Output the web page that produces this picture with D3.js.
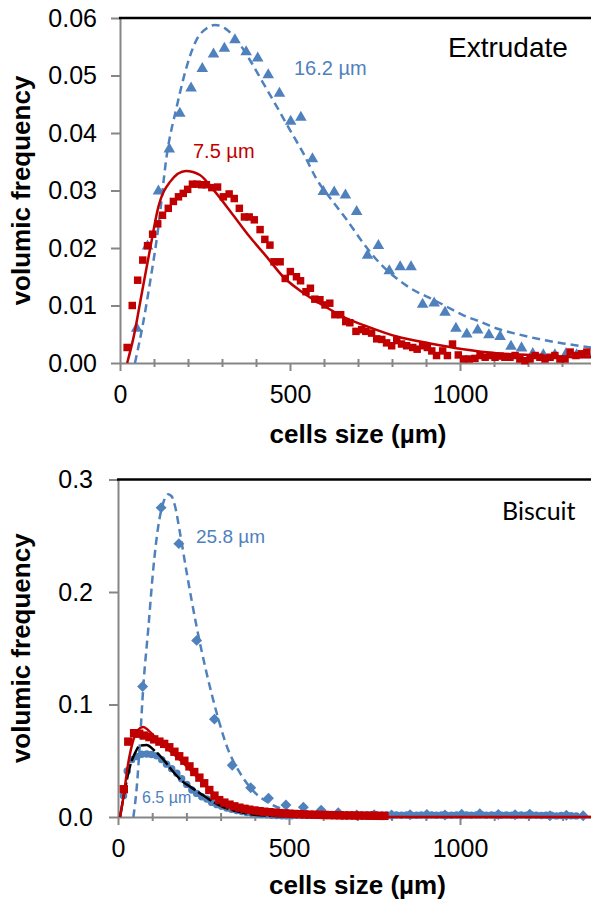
<!DOCTYPE html>
<html>
<head>
<meta charset="utf-8">
<script src="https://cdn.jsdelivr.net/npm/d3@7"></script>
<style>
  body { margin: 0; background: #fff; }
  text { font-family: "Liberation Sans", Arial, sans-serif; }
</style>
</head>
<body>
<svg id="chart" width="591" height="901"></svg>
<script>
// ---- Extrudate panel data: [cell size µm, volumic frequency]
var extSquares = [[21,0.0027],[36,0.0100],[52,0.0144],[67,0.0179],[81,0.0204],[96,0.0224],[111,0.0242],[125,0.0257],
  [142,0.0269],[157,0.0281],[172,0.0289],[186,0.0295],[199,0.0302],[213,0.0311],[227,0.0311],[240,0.0310],[254,0.0310],
  [270,0.0305],[287,0.0306],[304,0.0289],[321,0.0294],[336,0.0286],[351,0.0269],[366,0.0254],[380,0.0254],[395,0.0249],
  [412,0.0232],[426,0.0215],[441,0.0205],[453,0.0176],[471,0.0176],[486,0.0147],[501,0.0159],[519,0.0150],[531,0.0143],
  [547,0.0124],[560,0.0130],[573,0.0111],[588,0.0110],[603,0.0101],[617,0.0104],[632,0.0084],[649,0.0084],[664,0.0072],
  [676,0.0070],[694,0.0055],[711,0.0058],[723,0.0055],[740,0.0052],[755,0.0042],[770,0.0041],[784,0.0035],[799,0.0030],
  [814,0.0039],[828,0.0033],[843,0.0030],[861,0.0027],[874,0.0024],[890,0.0030],[904,0.0027],[917,0.0021],[931,0.0013],
  [949,0.0021],[963,0.0013],[978,0.0033],[995,0.0014],[1010,0.0007],[1027,0.0007],[1044,0.0008],[1059,0.0013],[1074,0.0010],
  [1088,0.0013],[1103,0.0010],[1118,0.0012],[1132,0.0010],[1147,0.0010],[1162,0.0013],[1176,0.0007],[1191,0.0004],[1206,0.0007],
  [1221,0.0013],[1235,0.0010],[1250,0.0007],[1265,0.0010],[1279,0.0013],[1294,0.0007],[1309,0.0007],[1324,0.0019],[1341,0.0013],
  [1358,0.0016],[1373,0.0019]];

var extTriangles = [[49,0.0060],[81,0.0203],[113,0.0299],[145,0.0372],[176,0.0434],[209,0.0478],[242,0.0512],[275,0.0537],
  [307,0.0547],[338,0.0562],[371,0.0541],[405,0.0530],[436,0.0501],[469,0.0469],[502,0.0420],[532,0.0427],[566,0.0355],
  [598,0.0298],[630,0.0297],[663,0.0292],[696,0.0263],[728,0.0187],[760,0.0204],[792,0.0160],[824,0.0167],[856,0.0167],
  [890,0.0102],[924,0.0104],[956,0.0088],[988,0.0060],[1020,0.0050],[1052,0.0057],[1085,0.0049],[1118,0.0046],[1150,0.0029],
  [1181,0.0026],[1214,0.0016],[1245,0.0014],[1279,0.0014],[1312,0.0016],[1343,0.0014],[1374,0.0014]];

var extRedFit = [[21,0],[40,0.0045],[64,0.0121],[88,0.0197],[113,0.0272],[147,0.0315],[194,0.0334],[235,0.0327],[275,0.0301],
  [333,0.0257],[382,0.0219],[431,0.0185],[480,0.0150],[529,0.0126],[578,0.0107],[627,0.0090],[667,0.0077],[716,0.0066],
  [814,0.0046],[912,0.0034],[1010,0.0024],[1108,0.0017],[1206,0.0014],[1304,0.0011],[1400,0.0010]];

var extBlueFit = [[44,0],[64,0.0057],[88,0.0139],[113,0.0237],[137,0.0359],[167,0.0446],[196,0.0515],[225,0.0562],[255,0.0582],
  [279,0.0588],[309,0.0582],[343,0.0562],[382,0.0527],[422,0.0486],[461,0.0446],[500,0.0405],[539,0.0365],[578,0.0320],
  [627,0.0280],[667,0.0249],[716,0.0208],[765,0.0173],[814,0.0147],[863,0.0127],[912,0.0113],[961,0.0098],[1010,0.0083],
  [1059,0.0072],[1108,0.0060],[1157,0.0052],[1206,0.0045],[1255,0.0039],[1304,0.0034],[1400,0.0026]];

// ---- Biscuit panel data
var bisDiamonds = [[72,0.116],[126,0.275],[178,0.243],[230,0.157],[282,0.087],[334,0.046],[388,0.026],[440,0.0166],
  [491,0.0107],[542,0.0086],[594,0.0060],[644,0.0038],[698,0.0018],[749,0.0020],[800,0.0018],[854,0.0020],[903,0.0022],
  [956,0.0018],[1005,0.0025],[1058,0.0030],[1112,0.0022],[1161,0.0020],[1204,0.0024],[1263,0.0012],[1311,0.0015],[1360,0.0012]];

var bisDiamondFit = [[45,0],[55,0.027],[64,0.066],[74,0.116],[89,0.169],[103,0.220],[118,0.259],[132,0.279],[147,0.287],
  [157,0.285],[167,0.276],[181,0.253],[201,0.217],[230,0.169],[259,0.128],[289,0.092],[318,0.063],[357,0.039],[396,0.023],
  [444,0.012],[493,0.006],[552,0.003],[630,0.001],[800,0.0003],[1400,0.0001]];

var bisSquares = [[17,0.0247],[30,0.067],[47,0.0745],[62,0.074],[77,0.0724],[92,0.071],[106,0.069],[121,0.067],[135,0.065],
  [150,0.062],[165,0.058],[179,0.054],[194,0.050],[209,0.045],[223,0.040],[238,0.035],[252,0.030],[267,0.024],[282,0.019],
  [296,0.0150],[311,0.0128],[326,0.0110],[340,0.0095],[355,0.0083],[370,0.0073],[384,0.0065],[399,0.0058],[414,0.0052],
  [428,0.0047],[443,0.0043],[458,0.0039],[472,0.0035],[487,0.0032],[501,0.0029],[516,0.0027],[531,0.0025],[545,0.0023],
  [560,0.0021],[575,0.0020],[589,0.0019],[604,0.0018],[618,0.0017],[633,0.0016],[648,0.0015],[662,0.0014],[677,0.0014],
  [692,0.0013],[706,0.0013],[721,0.0012],[736,0.0011],[750,0.0011],[765,0.0010],[779,0.0010]];

var bisRedFit = [[6,0],[16,0.018],[30,0.048],[45,0.0686],[59,0.0775],[74,0.080],[89,0.077],[105,0.072],[132,0.064],
  [162,0.056],[191,0.048],[220,0.039],[250,0.030],[280,0.021],[310,0.013],[340,0.0085],[400,0.0035],[500,0.0012],
  [600,0.0004],[800,0.0001],[1400,0]];

var bisCircles = [[16,0.019],[27,0.041],[40,0.051],[55,0.0537],[69,0.0558],[84,0.056],[98,0.0555],[113,0.0545],[128,0.051],
  [142,0.047],[157,0.043],[172,0.039],[186,0.034],[201,0.029],[216,0.024],[230,0.021],[245,0.018],[260,0.016],[274,0.013],
  [289,0.011],[303,0.0095],[318,0.008],[332,0.0068],[347,0.0057],[362,0.0048],[376,0.0040],[391,0.0034],[405,0.0028],
  [420,0.0023],[435,0.0019],[449,0.0016],[464,0.0013],[479,0.0011],[493,0.0010],[508,0.0012],[522,0.0015],[537,0.0018],
  [552,0.0016],[566,0.0020],[581,0.0017],[595,0.0015],[610,0.0019],[625,0.0016],[639,0.0018],[654,0.0020],[668,0.0015],
  [683,0.0017],[698,0.0019],[712,0.0016],[727,0.0018],[741,0.0020],[756,0.0017],[771,0.0015],[785,0.0018],[800,0.0016],
  [814,0.0017],[829,0.0015],[844,0.0018],[858,0.0016],[873,0.0015],[887,0.0017],[902,0.0016],[917,0.0018],[931,0.0015],
  [946,0.0017],[960,0.0016],[975,0.0015],[990,0.0018],[1004,0.0016],[1019,0.0017],[1033,0.0015],[1048,0.0018],[1063,0.0020],
  [1077,0.0016],[1092,0.0017],[1106,0.0015],[1121,0.0016],[1136,0.0018],[1150,0.0016],[1165,0.0015],[1179,0.0017],
  [1194,0.0016],[1209,0.0018],[1223,0.0015],[1238,0.0014],[1252,0.0016],[1267,0.0015],[1282,0.0010],[1296,0.0014],
  [1311,0.0016],[1325,0.0012],[1340,0.0010]];

var bisBlackFit = [[6,0],[20,0.024],[35,0.045],[50,0.057],[64,0.0635],[84,0.064],[103,0.060],[133,0.051],[162,0.040],
  [191,0.031],[211,0.027],[240,0.021],[270,0.015],[300,0.010],[350,0.005],[400,0.002],[500,0.0005],[600,0]];

var xMajor = [0, 500, 1000];
var xMinor = [100, 200, 300, 400, 600, 700, 800, 900, 1100, 1200, 1300];
var extYTicks = [0, 0.01, 0.02, 0.03, 0.04, 0.05, 0.06];
var bisYTicks = [0, 0.1, 0.2, 0.3];

var red = "#C00000", blue = "#4F81BD", grey = "#868686";
var svg = d3.select("#chart");

function makePanel(p) {
  var x = d3.scaleLinear().domain([0, 1400]).range([p.left, p.left + 1400 * p.kx]);
  var y = d3.scaleLinear().domain(p.ydom).range([p.bottom, p.top]);

  // minor ticks crossing the axis
  var gm = svg.append("g")
    .attr("transform", "translate(0," + (p.bottom - 4) + ")")
    .call(d3.axisBottom(x).tickValues(xMinor).tickSize(8).tickFormat(""));
  gm.select(".domain").remove();
  gm.selectAll("line").attr("stroke", grey).attr("stroke-width", 2);

  var gx = svg.append("g")
    .attr("transform", "translate(0," + p.bottom + ")")
    .call(d3.axisBottom(x).tickValues(xMajor).tickSize(8).tickSizeOuter(0)
      .tickPadding(14).tickFormat(d3.format("d")));
  var gy = svg.append("g")
    .attr("transform", "translate(" + p.left + ",0)")
    .call(d3.axisLeft(y).tickValues(p.yticks).tickSize(9).tickSizeOuter(0)
      .tickPadding(p.ypad).tickFormat(d3.format(p.fmt)));
  [gx, gy].forEach(function(g) {
    g.selectAll("path, line").attr("stroke", grey).attr("stroke-width", 2);
    g.selectAll("text").attr("font-size", 25).attr("fill", "#000")
      .attr("font-family", "Liberation Sans, Arial, sans-serif");
  });

  // top border of plot area
  svg.append("line")
    .attr("x1", p.left - 1).attr("x2", 600)
    .attr("y1", p.top).attr("y2", p.top)
    .attr("stroke", "#000").attr("stroke-width", 2.5);

  // axis titles
  svg.append("text")
    .attr("x", (x.range()[0] + x.range()[1]) / 2).attr("y", p.xTitleY)
    .attr("text-anchor", "middle").attr("font-size", 26).attr("font-weight", "bold")
    .text("cells size (µm)");
  svg.append("text")
    .attr("transform", "translate(30," + ((p.top + p.bottom) / 2) + ") rotate(-90)")
    .attr("text-anchor", "middle").attr("font-size", 26).attr("font-weight", "bold")
    .text("volumic frequency");

  return {x: x, y: y};
}

function drawLine(s, data, color, dash) {
  svg.append("path")
    .datum(data)
    .attr("fill", "none")
    .attr("stroke", color)
    .attr("stroke-width", 2.5)
    .attr("stroke-dasharray", dash)
    .attr("d", d3.line()
      .x(function(d) { return s.x(d[0]); })
      .y(function(d) { return s.y(d[1]); })
      .curve(d3.curveMonotoneX));
}

function drawSymbols(s, data, type, size, color, angle) {
  svg.append("g").selectAll("path")
    .data(data)
    .enter().append("path")
    .attr("d", d3.symbol().type(type).size(size))
    .attr("fill", color)
    .attr("transform", function(d) {
      return "translate(" + s.x(d[0]) + "," + s.y(d[1]) + ") rotate(" + (angle || 0) + ")";
    });
}

// ---- Extrudate
var top1 = makePanel({left: 120, top: 18, bottom: 363, kx: 0.34, ydom: [0, 0.06],
  yticks: extYTicks, fmt: ".2f", ypad: 14, xTitleY: 443});
drawSymbols(top1, extTriangles, d3.symbolTriangle, 58, blue);
drawLine(top1, extBlueFit, blue, "8,5");
drawSymbols(top1, extSquares, d3.symbolSquare, 56, red);
drawLine(top1, extRedFit, red, null);

svg.append("text").attr("x", 448).attr("y", 57).attr("font-size", 28).text("Extrudate");
svg.append("text").attr("x", 294).attr("y", 75).attr("font-size", 20).attr("fill", blue).text("16.2 µm");
svg.append("text").attr("x", 193).attr("y", 158).attr("font-size", 20).attr("fill", red).text("7.5 µm");

// ---- Biscuit
var bot = makePanel({left: 118, top: 479.5, bottom: 817, kx: 0.342, ydom: [0, 0.3],
  yticks: bisYTicks, fmt: ".1f", ypad: 16, xTitleY: 894});
drawSymbols(bot, bisDiamonds, d3.symbolSquare, 60, blue, 45);
drawLine(bot, bisDiamondFit, blue, "8,5");
drawSymbols(bot, bisCircles, d3.symbolCircle, 44, blue);
drawLine(bot, bisBlackFit, "#000", "16,3");
drawSymbols(bot, bisSquares, d3.symbolSquare, 70, red);
drawLine(bot, bisRedFit, red, null);

svg.append("text").attr("x", 502).attr("y", 520).attr("font-size", 25)
  .style("font-family", "Lato, 'Open Sans', sans-serif").text("Biscuit");
svg.append("text").attr("x", 196).attr("y", 543).attr("font-size", 19).attr("fill", blue).text("25.8 µm");
svg.append("text").attr("x", 142).attr("y", 803).attr("font-size", 16).attr("fill", blue).text("6.5 µm");
</script>
</body>
</html>
